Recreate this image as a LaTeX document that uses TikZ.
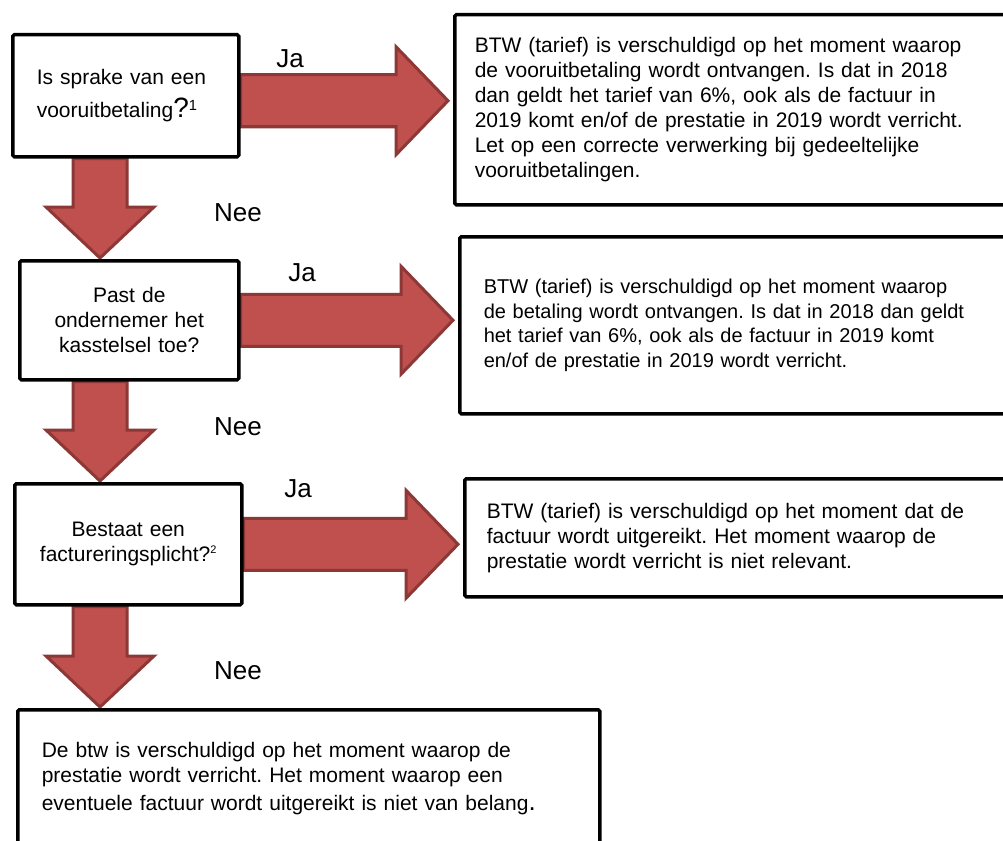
\documentclass[tikz,border=0pt]{standalone}
\usepackage{fontspec}
\setmainfont{Liberation Sans}
\usetikzlibrary{calc,backgrounds}
\frenchspacing
\definecolor{pijlrood}{HTML}{C0504D}
\definecolor{pijlrand}{HTML}{8C3836}
\newcommand{\tekst}{\fontsize{21}{25}\selectfont}
\newcommand{\pijlrechts}[2]{%
  \filldraw[blokpijl] let \p1=(#1), \p2=(#2) in
    (\x1,\y1+26) -- (\x2-57,\y1+26) -- (\x2-57,\y1+54) -- (\x2-5,\y1)
    -- (\x2-57,\y1-54) -- (\x2-57,\y1-26) -- (\x1,\y1-26) -- cycle;}
\newcommand{\pijlomlaag}[2]{%
  \filldraw[blokpijl] let \p1=(#1), \p2=(#2) in
    (\x1-27,\y1) -- (\x1-27,\y2+52) -- (\x1-54,\y2+52) -- (\x1,\y2+1)
    -- (\x1+54,\y2+52) -- (\x1+27,\y2+52) -- (\x1+27,\y1) -- cycle;}

\begin{document}
\begin{tikzpicture}[x=1pt,y=-1pt,
  vak/.style={draw,line width=3.5pt,rounded corners=1.5pt,fill=white,anchor=north west,inner ysep=0pt,font=\tekst},
  blokpijl/.style={fill=pijlrood,draw=pijlrand,line width=3pt},
  keuze/.style={font=\fontsize{26}{26}\selectfont}]
\useasboundingbox (0,0) rectangle (1003,840);
\clip (0,0) rectangle (1003,840);

\node[vak,align=left,text width=178pt,inner xsep=24pt,minimum height=122pt] (q1) at (11,33)
  {Is sprake van een\\[8pt]vooruitbetaling{\fontsize{28}{28}\selectfont?}\textsuperscript{1}};
\node[vak,align=center,text width=199pt,inner xsep=10pt,minimum height=119pt] (q2) at (18,259)
  {Past de\\ondernemer het\\kasstelsel toe?};
\node[vak,align=center,text width=207pt,inner xsep=10pt,minimum height=121pt] (q3) at (13,482)
  {Bestaat een\\factureringsplicht?{\fontsize{11}{11}\selectfont\raisebox{8pt}{2}}};

\node[vak,align=left,text width=520pt,inner xsep=20pt,minimum height=190pt] (a1) at (453,13)
  {BTW (tarief) is verschuldigd op het moment waarop\\
   de vooruitbetaling wordt ontvangen. Is dat in 2018\\
   dan geldt het tarief van 6\%, ook als de factuur in\\
   2019 komt en/of de prestatie in 2019 wordt verricht.\\
   Let op een correcte verwerking bij gedeeltelijke\\
   vooruitbetalingen.};
\node[vak,align=left,text width=507pt,inner xsep=24pt,minimum height=177pt,font=\fontsize{20}{24.5}\selectfont] (a2) at (458,235)
  {BTW (tarief) is verschuldigd op het moment waarop\\
   de betaling wordt ontvangen. Is dat in 2018 dan geldt\\
   het tarief van 6\%, ook als de factuur in 2019 komt\\
   en/of de prestatie in 2019 wordt verricht.};
\node[vak,align=left,text width=506pt,inner xsep=22pt,minimum height=118pt] (a3) at (463,477)
  {BTW (tarief) is verschuldigd op het moment dat de\\
   factuur wordt uitgereikt. Het moment waarop de\\
   prestatie wordt verricht is niet relevant.};
\node[vak,align=left,text width=534pt,inner xsep=24pt,minimum height=138pt] (a4) at (16,708)
  {De btw is verschuldigd op het moment waarop de\\
   prestatie wordt verricht. Het moment waarop een\\[3pt]
   eventuele factuur wordt uitgereikt is niet van belang{\fontsize{26}{26}\selectfont.}};

\node[keuze] (ja1) at (290,59) {Ja};
\node[keuze] (ja2) at (302,273) {Ja};
\node[keuze] (ja3) at (298,489) {Ja};
\node[keuze] (nee1) at (238,213) {Nee};
\node[keuze] (nee2) at (238,427) {Nee};
\node[keuze] (nee3) at (238,671) {Nee};

\coordinate (as) at (100,0);
\begin{pgfonlayer}{background}
\pijlrechts{$(q1.east)+(0,5)$}{a1.west}
\pijlrechts{q2.east}{a2.west}
\pijlrechts{q3.east}{a3.west}
\pijlomlaag{as |- q1.south}{as |- q2.north}
\pijlomlaag{as |- q2.south}{as |- q3.north}
\pijlomlaag{as |- q3.south}{as |- a4.north}
\end{pgfonlayer}
\end{tikzpicture}
\end{document}
